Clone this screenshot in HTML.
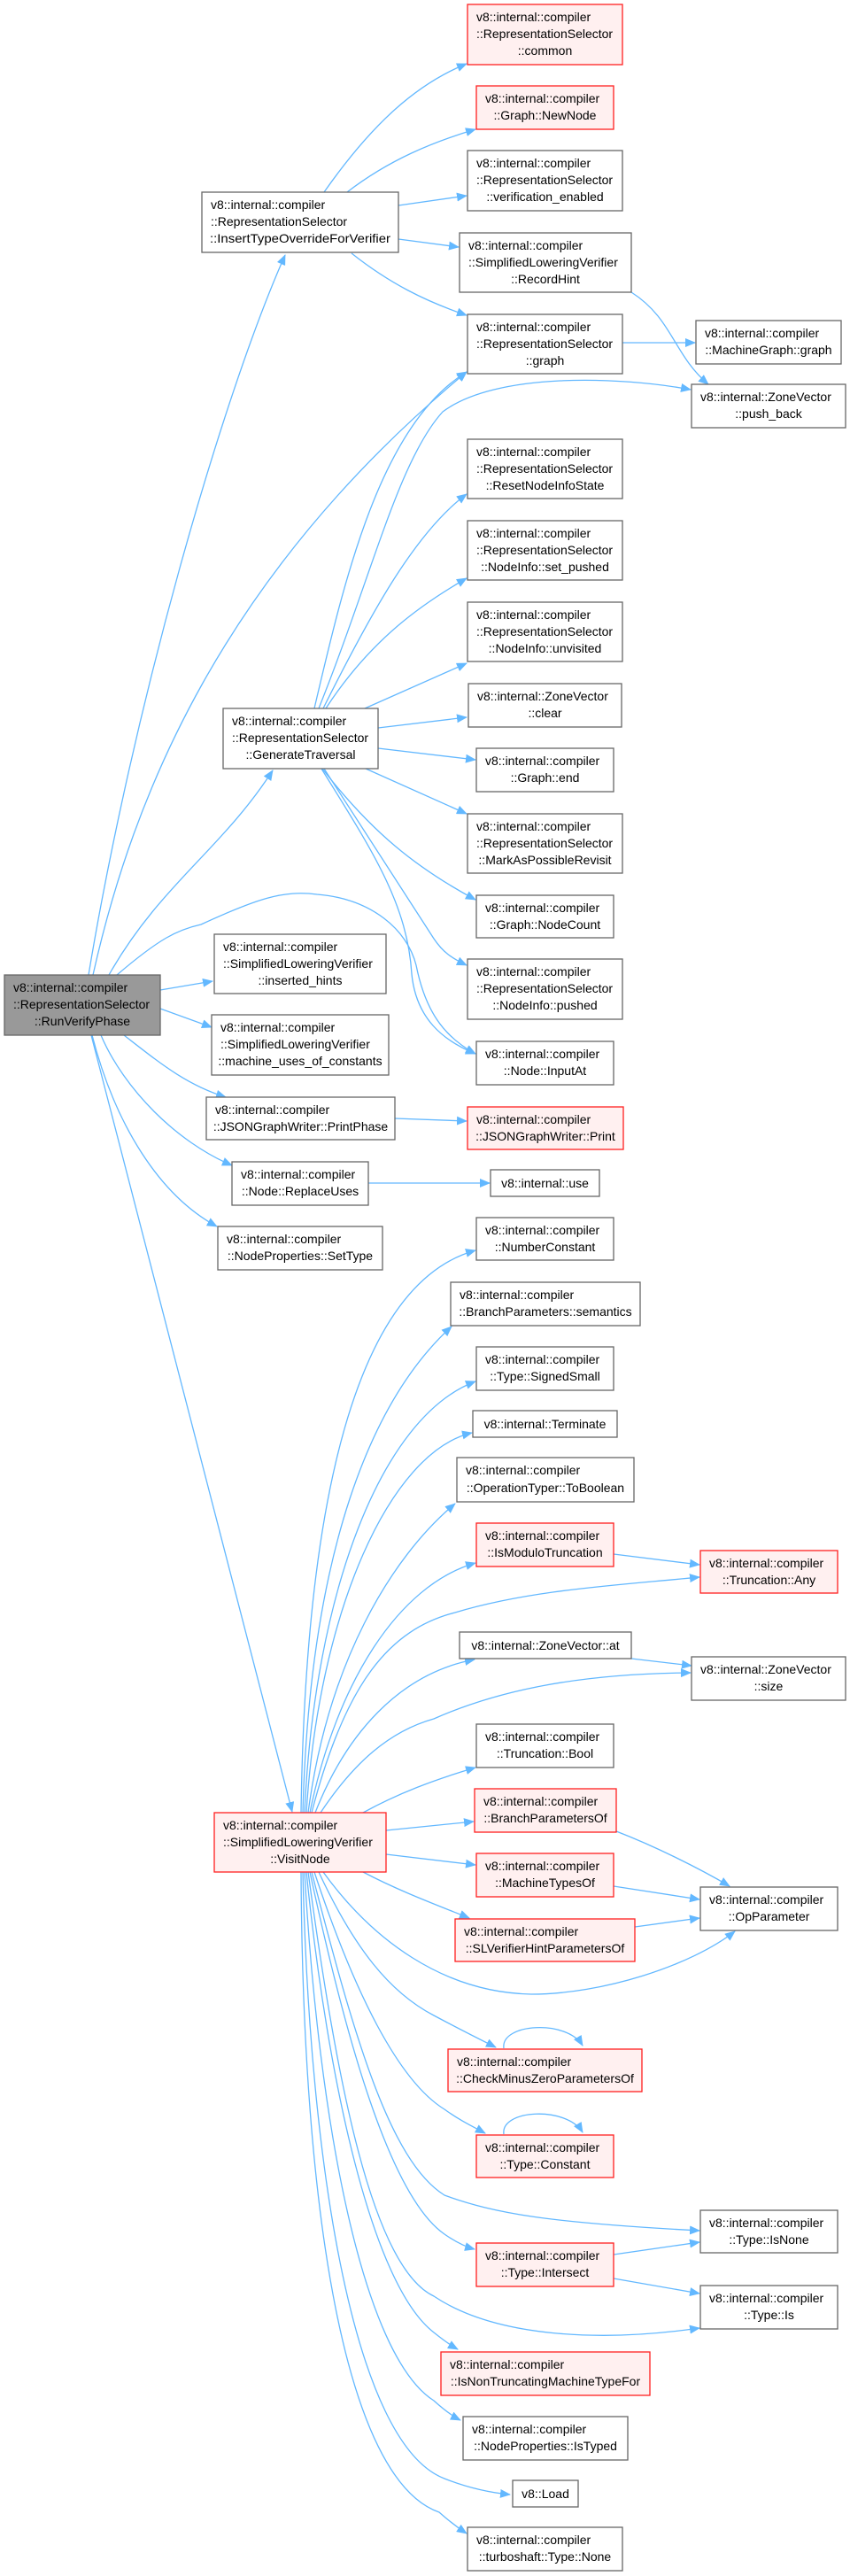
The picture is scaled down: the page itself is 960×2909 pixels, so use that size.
<!DOCTYPE html>
<html><head><meta charset="utf-8"><style>
html,body{margin:0;padding:0;background:#fff;}
svg{display:block;}
text{font-family:"Liberation Sans",sans-serif;font-size:14px;fill:#000;}
.n{fill:#fff;stroke:#666;stroke-width:1.3;}
.r{fill:#fff0f0;stroke:#ff2020;stroke-width:1.3;}
.g{fill:#999;stroke:#666;stroke-width:1.3;}
.e{fill:none;stroke:#63b8ff;stroke-width:1.3;}
</style></head><body>
<svg width="960" height="2909" viewBox="0 0 960 2909" xmlns="http://www.w3.org/2000/svg">
<defs><marker id="a" markerUnits="userSpaceOnUse" markerWidth="12" markerHeight="10" refX="11" refY="5" orient="auto"><path d="M0,0 L12,5 L0,10 Z" fill="#63b8ff"/></marker></defs>
<g marker-end="url(#a)">
<path class="e" d="M100,1101 C150,800 250,450 322,288"/>
<path class="e" d="M123,1101 C180,1000 250,960 308,870"/>
<path class="e" d="M105,1101 C150,900 250,650 527,420"/>
<path class="e" d="M132,1101 C180,1060 200,1050 227,1044 C290,1015 320,1005 358,1010 C420,1015 460,1050 470,1090 C480,1140 500,1170 537,1190"/>
<path class="e" d="M181,1118 L240,1108"/>
<path class="e" d="M181,1139 L239,1160"/>
<path class="e" d="M140,1169 C180,1200 210,1225 255,1239"/>
<path class="e" d="M114,1169 C140,1230 200,1290 262,1316"/>
<path class="e" d="M104,1169 C130,1270 180,1350 245,1385"/>
<path class="e" d="M103,1169 L330,2046"/>
<path class="e" d="M366,217 C420,140 470,95 527,72"/>
<path class="e" d="M392,217 C440,180 490,160 537,146"/>
<path class="e" d="M450,232 L527,221"/>
<path class="e" d="M450,270 L518,279"/>
<path class="e" d="M397,286 C440,320 480,340 527,356"/>
<path class="e" d="M713,330 C760,360 760,400 800,434"/>
<path class="e" d="M703,387 L785,387"/>
<path class="e" d="M355,800 C390,650 430,480 527,420"/>
<path class="e" d="M360,800 C420,650 450,520 500,465 C560,420 700,425 780,440"/>
<path class="e" d="M365,800 C420,690 470,600 527,558"/>
<path class="e" d="M368,800 C420,720 480,680 527,653"/>
<path class="e" d="M412,800 L527,749"/>
<path class="e" d="M427,822 L527,810"/>
<path class="e" d="M427,845 L537,858"/>
<path class="e" d="M413,868 L527,919"/>
<path class="e" d="M364,868 C420,940 470,980 537,1016"/>
<path class="e" d="M366,868 L490,1060 C500,1075 510,1082 527,1090"/>
<path class="e" d="M363,868 C420,960 460,1020 465,1100 C470,1150 500,1175 537,1190"/>
<path class="e" d="M446,1263 L527,1266"/>
<path class="e" d="M416,1336 L553,1336"/>
<path class="e" d="M340,2047 C345,1700 400,1450 537,1412"/>
<path class="e" d="M342,2047 C350,1750 420,1580 510,1498"/>
<path class="e" d="M344,2047 C355,1800 430,1600 537,1560"/>
<path class="e" d="M346,2047 C360,1820 440,1640 533,1618"/>
<path class="e" d="M348,2047 C370,1880 440,1760 514,1698"/>
<path class="e" d="M350,2047 C380,1900 450,1790 537,1765"/>
<path class="e" d="M352,2047 C390,1900 440,1840 514,1821 C600,1795 700,1790 790,1781"/>
<path class="e" d="M356,2047 C390,1960 450,1890 536,1874"/>
<path class="e" d="M362,2047 C400,1990 440,1955 490,1941 C560,1910 650,1890 780,1889"/>
<path class="e" d="M410,2047 C450,2025 490,2010 537,1996"/>
<path class="e" d="M436,2067 L535,2057"/>
<path class="e" d="M436,2094 L537,2106"/>
<path class="e" d="M410,2114 C450,2135 490,2150 530,2166"/>
<path class="e" d="M365,2114 C420,2190 500,2250 600,2252 C680,2252 780,2220 830,2181"/>
<path class="e" d="M360,2114 C400,2200 440,2250 490,2276 C520,2292 540,2302 560,2312"/>
<path class="e" d="M355,2114 C400,2250 450,2350 502,2382 C520,2395 535,2402 548,2409"/>
<path class="e" d="M352,2114 C400,2300 440,2440 502,2479 C560,2500 620,2510 790,2519"/>
<path class="e" d="M350,2114 C390,2300 440,2480 502,2523 C515,2532 525,2537 536,2540"/>
<path class="e" d="M348,2114 C380,2350 420,2560 490,2593 C560,2640 680,2645 790,2629"/>
<path class="e" d="M346,2114 C370,2350 420,2580 490,2634 C500,2642 508,2648 517,2653"/>
<path class="e" d="M344,2114 C360,2400 410,2660 490,2711 C500,2720 510,2728 520,2733"/>
<path class="e" d="M342,2114 C350,2450 400,2760 502,2799 C530,2810 555,2815 576,2817"/>
<path class="e" d="M340,2114 C342,2500 390,2800 496,2837 C505,2845 515,2853 527,2861"/>
<path class="e" d="M569,2313 C565,2285 640,2280 658,2310"/>
<path class="e" d="M569,2410 C565,2382 640,2378 658,2408"/>
<path class="e" d="M693,1755 L790,1767"/>
<path class="e" d="M713,1873 L781,1881"/>
<path class="e" d="M696,2068 C740,2085 790,2110 824,2130"/>
<path class="e" d="M693,2130 L790,2145"/>
<path class="e" d="M717,2176 L790,2166"/>
<path class="e" d="M693,2546 L790,2532"/>
<path class="e" d="M693,2573 L790,2590"/>
</g>

<rect class="r" x="528" y="5" width="175" height="68"/><text x="538" y="24">v8::internal::compiler</text><text x="538" y="43">::RepresentationSelector</text><text x="615.5" y="62" text-anchor="middle">::common</text>
<rect class="r" x="538" y="97" width="155" height="49"/><text x="548" y="116">v8::internal::compiler</text><text x="615.5" y="135" text-anchor="middle">::Graph::NewNode</text>
<rect class="n" x="528" y="170" width="175" height="68"/><text x="538" y="189">v8::internal::compiler</text><text x="538" y="208">::RepresentationSelector</text><text x="615.5" y="227" text-anchor="middle">::verification_enabled</text>
<rect class="n" x="228" y="217" width="222" height="68"/><text x="238" y="236">v8::internal::compiler</text><text x="238" y="255">::RepresentationSelector</text><text x="339" y="274" text-anchor="middle" textLength="204" lengthAdjust="spacingAndGlyphs">::InsertTypeOverrideForVerifier</text>
<rect class="n" x="519" y="263" width="194" height="67"/><text x="529" y="282">v8::internal::compiler</text><text x="529" y="301">::SimplifiedLoweringVerifier</text><text x="616" y="320" text-anchor="middle">::RecordHint</text>
<rect class="n" x="528" y="355" width="175" height="67"/><text x="538" y="374">v8::internal::compiler</text><text x="538" y="393">::RepresentationSelector</text><text x="615.5" y="412" text-anchor="middle">::graph</text>
<rect class="n" x="786" y="362" width="164" height="49"/><text x="796" y="381">v8::internal::compiler</text><text x="868" y="400" text-anchor="middle">::MachineGraph::graph</text>
<rect class="n" x="781" y="434" width="174" height="49"/><text x="791" y="453">v8::internal::ZoneVector</text><text x="868" y="472" text-anchor="middle">::push_back</text>
<rect class="n" x="528" y="496" width="175" height="67"/><text x="538" y="515">v8::internal::compiler</text><text x="538" y="534">::RepresentationSelector</text><text x="615.5" y="553" text-anchor="middle">::ResetNodeInfoState</text>
<rect class="n" x="528" y="588" width="175" height="67"/><text x="538" y="607">v8::internal::compiler</text><text x="538" y="626">::RepresentationSelector</text><text x="615.5" y="645" text-anchor="middle">::NodeInfo::set_pushed</text>
<rect class="n" x="528" y="680" width="175" height="67"/><text x="538" y="699">v8::internal::compiler</text><text x="538" y="718">::RepresentationSelector</text><text x="615.5" y="737" text-anchor="middle">::NodeInfo::unvisited</text>
<rect class="n" x="529" y="772" width="173" height="49"/><text x="539" y="791">v8::internal::ZoneVector</text><text x="615.5" y="810" text-anchor="middle">::clear</text>
<rect class="n" x="252" y="800" width="175" height="68"/><text x="262" y="819">v8::internal::compiler</text><text x="262" y="838">::RepresentationSelector</text><text x="339.5" y="857" text-anchor="middle">::GenerateTraversal</text>
<rect class="n" x="538" y="845" width="155" height="49"/><text x="548" y="864">v8::internal::compiler</text><text x="615.5" y="883" text-anchor="middle">::Graph::end</text>
<rect class="n" x="528" y="919" width="175" height="67"/><text x="538" y="938">v8::internal::compiler</text><text x="538" y="957">::RepresentationSelector</text><text x="615.5" y="976" text-anchor="middle">::MarkAsPossibleRevisit</text>
<rect class="n" x="538" y="1011" width="155" height="48"/><text x="548" y="1030">v8::internal::compiler</text><text x="615.5" y="1049" text-anchor="middle">::Graph::NodeCount</text>
<rect class="n" x="528" y="1083" width="175" height="68"/><text x="538" y="1102">v8::internal::compiler</text><text x="538" y="1121">::RepresentationSelector</text><text x="615.5" y="1140" text-anchor="middle">::NodeInfo::pushed</text>
<rect class="g" x="5" y="1101" width="176" height="68"/><text x="15" y="1120">v8::internal::compiler</text><text x="15" y="1139">::RepresentationSelector</text><text x="93" y="1158" text-anchor="middle">::RunVerifyPhase</text>
<rect class="n" x="242" y="1055" width="194" height="67"/><text x="252" y="1074">v8::internal::compiler</text><text x="252" y="1093">::SimplifiedLoweringVerifier</text><text x="339" y="1112" text-anchor="middle">::inserted_hints</text>
<rect class="n" x="239" y="1146" width="200" height="68"/><text x="249" y="1165">v8::internal::compiler</text><text x="249" y="1184">::SimplifiedLoweringVerifier</text><text x="339" y="1203" text-anchor="middle">::machine_uses_of_constants</text>
<rect class="n" x="538" y="1176" width="155" height="49"/><text x="548" y="1195">v8::internal::compiler</text><text x="615.5" y="1214" text-anchor="middle">::Node::InputAt</text>
<rect class="n" x="233" y="1239" width="213" height="48"/><text x="243" y="1258">v8::internal::compiler</text><text x="339.5" y="1277" text-anchor="middle">::JSONGraphWriter::PrintPhase</text>
<rect class="r" x="528" y="1250" width="176" height="48"/><text x="538" y="1269">v8::internal::compiler</text><text x="616" y="1288" text-anchor="middle">::JSONGraphWriter::Print</text>
<rect class="n" x="262" y="1312" width="154" height="49"/><text x="272" y="1331">v8::internal::compiler</text><text x="339" y="1350" text-anchor="middle">::Node::ReplaceUses</text>
<rect class="n" x="554" y="1321" width="123" height="30"/><text x="615.5" y="1341" text-anchor="middle">v8::internal::use</text>
<rect class="n" x="246" y="1385" width="186" height="49"/><text x="256" y="1404">v8::internal::compiler</text><text x="339" y="1423" text-anchor="middle">::NodeProperties::SetType</text>
<rect class="n" x="538" y="1375" width="155" height="48"/><text x="548" y="1394">v8::internal::compiler</text><text x="615.5" y="1413" text-anchor="middle">::NumberConstant</text>
<rect class="n" x="509" y="1448" width="214" height="49"/><text x="519" y="1467">v8::internal::compiler</text><text x="616" y="1486" text-anchor="middle">::BranchParameters::semantics</text>
<rect class="n" x="538" y="1521" width="155" height="49"/><text x="548" y="1540">v8::internal::compiler</text><text x="615.5" y="1559" text-anchor="middle">::Type::SignedSmall</text>
<rect class="n" x="534" y="1593" width="163" height="30"/><text x="615.5" y="1613" text-anchor="middle">v8::internal::Terminate</text>
<rect class="n" x="516" y="1646" width="200" height="50"/><text x="526" y="1665">v8::internal::compiler</text><text x="616" y="1685" text-anchor="middle">::OperationTyper::ToBoolean</text>
<rect class="r" x="538" y="1720" width="155" height="49"/><text x="548" y="1739">v8::internal::compiler</text><text x="615.5" y="1758" text-anchor="middle">::IsModuloTruncation</text>
<rect class="r" x="791" y="1751" width="155" height="48"/><text x="801" y="1770">v8::internal::compiler</text><text x="868.5" y="1789" text-anchor="middle">::Truncation::Any</text>
<rect class="n" x="519" y="1843" width="194" height="30"/><text x="616" y="1863" text-anchor="middle">v8::internal::ZoneVector::at</text>
<rect class="n" x="781" y="1871" width="174" height="49"/><text x="791" y="1890">v8::internal::ZoneVector</text><text x="868" y="1909" text-anchor="middle">::size</text>
<rect class="n" x="538" y="1947" width="155" height="49"/><text x="548" y="1966">v8::internal::compiler</text><text x="615.5" y="1985" text-anchor="middle">::Truncation::Bool</text>
<rect class="r" x="536" y="2020" width="160" height="49"/><text x="546" y="2039">v8::internal::compiler</text><text x="616" y="2058" text-anchor="middle">::BranchParametersOf</text>
<rect class="r" x="242" y="2047" width="194" height="67"/><text x="252" y="2066">v8::internal::compiler</text><text x="252" y="2085">::SimplifiedLoweringVerifier</text><text x="339" y="2104" text-anchor="middle">::VisitNode</text>
<rect class="r" x="538" y="2093" width="155" height="49"/><text x="548" y="2112">v8::internal::compiler</text><text x="615.5" y="2131" text-anchor="middle">::MachineTypesOf</text>
<rect class="n" x="791" y="2131" width="155" height="49"/><text x="801" y="2150">v8::internal::compiler</text><text x="868.5" y="2169" text-anchor="middle">::OpParameter</text>
<rect class="r" x="514" y="2167" width="203" height="48"/><text x="524" y="2186">v8::internal::compiler</text><text x="615.5" y="2205" text-anchor="middle">::SLVerifierHintParametersOf</text>
<rect class="r" x="506" y="2314" width="219" height="48"/><text x="516" y="2333">v8::internal::compiler</text><text x="615.5" y="2352" text-anchor="middle">::CheckMinusZeroParametersOf</text>
<rect class="r" x="538" y="2411" width="155" height="48"/><text x="548" y="2430">v8::internal::compiler</text><text x="615.5" y="2449" text-anchor="middle">::Type::Constant</text>
<rect class="n" x="791" y="2496" width="155" height="48"/><text x="801" y="2515">v8::internal::compiler</text><text x="868.5" y="2534" text-anchor="middle">::Type::IsNone</text>
<rect class="r" x="538" y="2533" width="155" height="49"/><text x="548" y="2552">v8::internal::compiler</text><text x="615.5" y="2571" text-anchor="middle">::Type::Intersect</text>
<rect class="n" x="791" y="2581" width="155" height="49"/><text x="801" y="2600">v8::internal::compiler</text><text x="868.5" y="2619" text-anchor="middle">::Type::Is</text>
<rect class="r" x="498" y="2656" width="236" height="49"/><text x="508" y="2675">v8::internal::compiler</text><text x="616" y="2694" text-anchor="middle">::IsNonTruncatingMachineTypeFor</text>
<rect class="n" x="523" y="2729" width="186" height="49"/><text x="533" y="2748">v8::internal::compiler</text><text x="616" y="2767" text-anchor="middle">::NodeProperties::IsTyped</text>
<rect class="n" x="579" y="2801" width="74" height="30"/><text x="616" y="2821" text-anchor="middle">v8::Load</text>
<rect class="n" x="528" y="2854" width="175" height="49"/><text x="538" y="2873">v8::internal::compiler</text><text x="615.5" y="2892" text-anchor="middle">::turboshaft::Type::None</text>
</svg>
</body></html>
